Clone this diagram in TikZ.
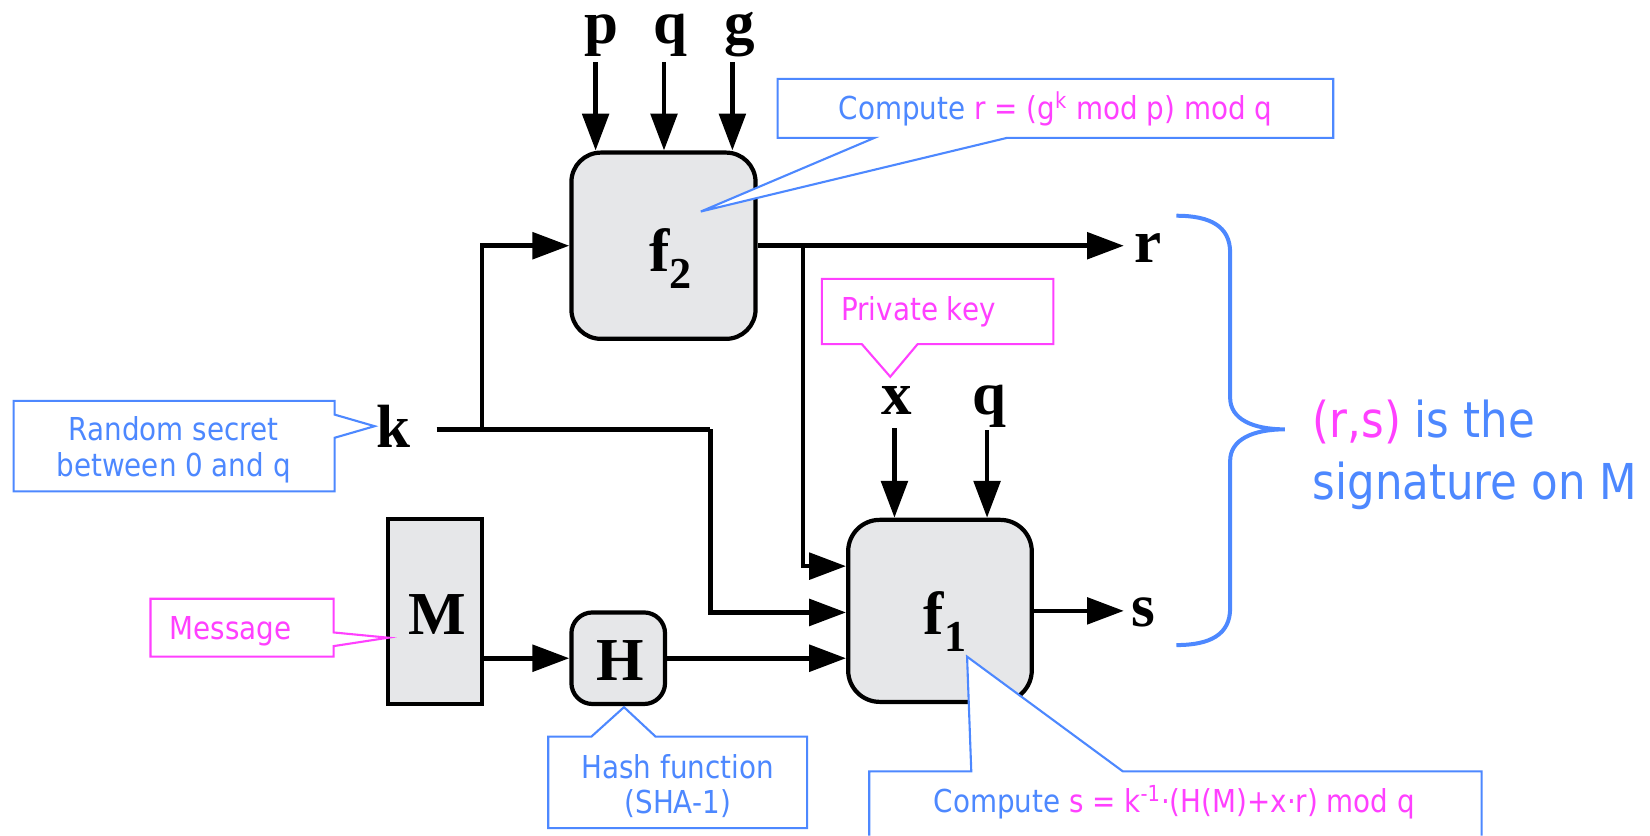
\documentclass[tikz,border=0pt]{standalone}
\usepackage{fontspec}
\setmainfont{Liberation Serif}
\newfontfamily\callfont[FakeStretch=0.88]{DejaVu Sans}
\usetikzlibrary{arrows.meta}
\definecolor{cblue}{RGB}{77,136,255}
\definecolor{cmag}{RGB}{255,64,255}
\definecolor{boxgray}{RGB}{230,231,233}
\begin{document}
\begin{tikzpicture}[x=0.5pt,y=-0.5pt,
  wire/.style={line width=2.2pt, draw=black},
  arr/.style={wire, -{Triangle[length=17.5pt,width=12.5pt]}},
  fnbox/.style={draw=black, line width=2pt, fill=boxgray, inner sep=0pt},
  letter/.style={font=\fontsize{29}{29}\selectfont\bfseries, inner sep=0pt},
  callout/.style={fill=white, line width=1pt},
  ctext/.style={font=\callfont\fontsize{15}{18}\selectfont, inner sep=0pt, text=cblue},
  btext/.style={font=\callfont\fontsize{23.5}{28}\selectfont, inner sep=0pt, text=cblue}]
\fill[white] (0,0) rectangle (1568,794);
\useasboundingbox (0,0) rectangle (1568,794);

% boxes
\node[fnbox, rounded corners=14pt, minimum width=87.5pt, minimum height=88.5pt] (f2) at (630.5,233.5) {};
\node[fnbox, rounded corners=15pt, minimum width=87.25pt, minimum height=86.5pt] (f1) at (893.25,580.5) {};
\node[fnbox, minimum width=44.5pt, minimum height=88pt] (Mb) at (413.5,581) {};
\node[fnbox, rounded corners=10pt, minimum width=44.5pt, minimum height=43.5pt] (Hb) at (587.5,625.5) {};

% labels
\node[letter] (f2t) at (637,246) {f\raisebox{-8pt}{\fontsize{21}{21}\selectfont 2}};
\node[letter] (f1t) at (898,591) {f\raisebox{-8pt}{\fontsize{21}{21}\selectfont 1}};
\node[letter] (Mt) at (416,584) {M};
\node[letter] (Ht) at (589,628) {H};
\node[letter, anchor=base] (p) at (572,41) {p};
\node[letter, anchor=base] (q) at (637,41) {q};
\node[letter, anchor=base] (g) at (703,41) {g};
\node[letter, anchor=base] (k) at (374,425) {k};
\node[letter, anchor=base] (x) at (852,394) {x};
\node[letter, anchor=base] (q2) at (940,394) {q};
\node[letter, anchor=base] (r) at (1091,249) {r};
\node[letter, anchor=base] (s) at (1087,595) {s};

% connector coordinates
\coordinate (pS) at (566,59);
\coordinate (qS) at (631,59);
\coordinate (gS) at (696,59);
\coordinate (kS) at (415,408);
\coordinate (kB) at (458,408);
\coordinate (kC) at (675,408);
\coordinate (rB) at (763,233.5);
\coordinate (rT) at (1068,233.5);
\coordinate (sT) at (1068,580.5);
\coordinate (xS) at (850,407);
\coordinate (q2S) at (938,409);

% connectors
\draw[arr] (pS) -- (pS |- f2.north);
\draw[arr] (qS) -- (qS |- f2.north);
\draw[arr] (gS) -- (gS |- f2.north);
\draw[wire] (kS) -- (kC);
\draw[arr] (kB) |- (f2.west);
\draw[arr] (kC) |- (f1.west |- 0,582);
\draw[arr] (f2.east) -- (rT);
\draw[arr] (rB) |- (f1.west |- 0,538);
\draw[arr] (xS) -- (xS |- f1.north);
\draw[arr] (q2S) -- (q2S |- f1.north);
\draw[arr] (f1.east) -- (sT);
\draw[arr] (Mb.east |- Hb.west) -- (Hb.west);
\draw[arr] (Hb.east) -- (f1.west |- Hb.east);

% brace
\draw[cblue, line width=1.9pt] (1118,205) .. controls (1150,205) and (1169,215) .. (1169,240)
  -- (1169,378) .. controls (1169,398) and (1190,408) .. (1221,408)
  .. controls (1190,408) and (1169,418) .. (1169,438)
  -- (1169,578) .. controls (1169,603) and (1150,613) .. (1118,613);
\node[btext, anchor=base west] (sig1) at (1247,416) {\textcolor{cmag}{(r,s)} is the};
\node[btext, anchor=base west] (sig2) at (1247,475) {signature on M};

% callouts
\draw[callout, draw=cblue] (739,75) -- (1267,75) -- (1267,131) -- (957,131) -- (666,201) -- (831,131) -- (739,131) -- cycle;
\node[ctext, anchor=base] (ctr) at (1003,114) {Compute \textcolor{cmag}{r = (g\textsuperscript{k} mod p) mod q}};

\draw[callout, draw=cmag] (781,265) -- (1001,265) -- (1001,327) -- (872,327) -- (846,358) -- (819,327) -- (781,327) -- cycle;
\node[ctext, anchor=base west, text=cmag] (pk) at (799,305) {Private key};

\draw[callout, draw=cblue] (13,381) -- (318,381) -- (318,394) -- (356,405) -- (318,416) -- (318,467) -- (13,467) -- cycle;
\node[ctext, anchor=base] (rs1) at (165,419) {Random secret};
\node[ctext, anchor=base] (rs2) at (165,453) {between 0 and q};

\draw[callout, draw=cmag] (143,569) -- (317,569) -- (317,601) -- (369,606) -- (317,614) -- (317,624) -- (143,624) -- cycle;
\node[ctext, anchor=base west, text=cmag] (msg) at (161,608) {Message};

\draw[callout, draw=cblue] (521,700) -- (562,700) -- (593,672) -- (623,700) -- (767,700) -- (767,787) -- (521,787) -- cycle;
\node[ctext, anchor=base] (hf1) at (644,740) {Hash function};
\node[ctext, anchor=base] (hf2) at (644,773) {(SHA-1)};

\draw[callout, draw=cblue] (826,794) -- (826,733) -- (923,733) -- (919,624) -- (1067,733) -- (1408,733) -- (1408,794);
\node[ctext, anchor=base] (cs) at (1116,772) {Compute \textcolor{cmag}{s = k\textsuperscript{-1}·(H(M)+x·r) mod q}};
\end{tikzpicture}
\end{document}
